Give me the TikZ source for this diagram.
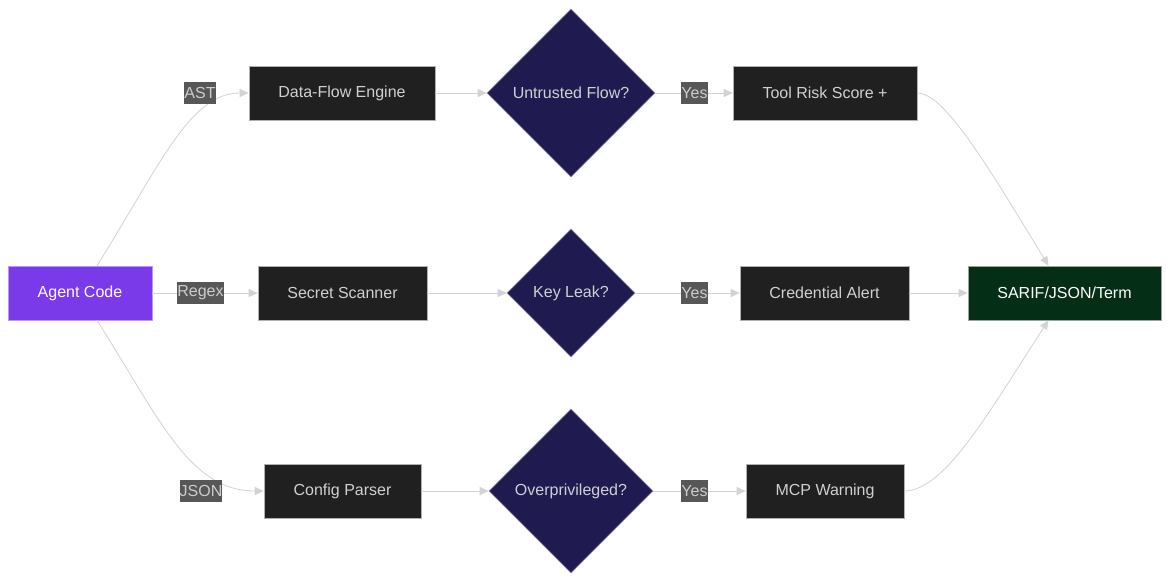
\documentclass[tikz,border=0pt]{standalone}
\usepackage{fontspec}
\setmainfont{Liberation Sans}
\usetikzlibrary{shapes.geometric,arrows.meta}
\definecolor{boxfill}{HTML}{202020}
\definecolor{boxline}{HTML}{B0B0B0}
\definecolor{boxtext}{HTML}{D0D0D0}
\definecolor{agentfill}{HTML}{7B3AEA}
\definecolor{agentline}{HTML}{B896F5}
\definecolor{decfill}{HTML}{1F1A4F}
\definecolor{decline}{HTML}{8A86A8}
\definecolor{outfill}{HTML}{052E16}
\definecolor{outline}{HTML}{A0A0A0}
\definecolor{edgecol}{HTML}{D3D3D3}
\definecolor{lblfill}{HTML}{575757}
\definecolor{lbltext}{HTML}{CCCCCC}
\begin{document}
\begin{tikzpicture}[x=1pt,y=-1pt,
  every node/.style={font=\fontsize{16}{19}\selectfont},
  proc/.style={rectangle,draw=boxline,line width=0.6pt,fill=boxfill,text=boxtext,minimum height=54pt,inner sep=0pt},
  dec/.style={diamond,aspect=1,draw=decline,line width=0.6pt,fill=decfill,text=boxtext,inner sep=0pt},
  lbl/.style={fill=lblfill,text=lbltext,inner xsep=0pt,inner ysep=1pt,minimum height=22pt},
  edge/.style={draw=edgecol,line width=0.8pt,-{Triangle[length=9pt,width=8pt,fill=edgecol]}}
]
\useasboundingbox[fill=white] (0,0) rectangle (1170,582);
% nodes
\node[proc,fill=agentfill,draw=agentline,text=white,minimum width=144pt] (ac) at (80,293) {Agent Code};
\node[proc,minimum width=186pt] (df) at (342,93) {Data-Flow Engine};
\node[proc,minimum width=169pt] (ss) at (342.5,293) {Secret Scanner};
\node[proc,minimum width=157pt] (cp) at (342.5,491) {Config Parser};
\node[dec,minimum width=168pt,minimum height=168pt] (uf) at (571,93) {Untrusted Flow?};
\node[dec,minimum width=128pt,minimum height=128pt] (kl) at (571,293) {Key Leak?};
\node[dec,minimum width=164pt,minimum height=164pt] (op) at (571,491) {Overprivileged?};
\node[proc,minimum width=184pt] (tr) at (825,93) {Tool Risk Score +};
\node[proc,minimum width=169pt] (ca) at (824.5,293) {Credential Alert};
\node[proc,minimum width=158pt] (mw) at (825,491) {MCP Warning};
\node[proc,fill=outfill,draw=outline,text=white,minimum width=193pt] (out) at (1064.5,293) {SARIF/JSON/Term};
% edges
\draw[edge] ([xshift=17pt]ac.north) .. controls (160,165) and (190,93) .. (df.west);
\draw[edge] (ac.east) -- (ss.west);
\draw[edge] ([xshift=17pt]ac.south) .. controls (160,420) and (190,491) .. (cp.west);
\draw[edge] (df.east) -- (uf.west);
\draw[edge] (ss.east) -- (kl.west);
\draw[edge] (cp.east) -- (op.west);
\draw[edge] (uf.east) -- (tr.west);
\draw[edge] (kl.east) -- (ca.west);
\draw[edge] (op.east) -- (mw.west);
\draw[edge] (tr.east) .. controls (945,93) and (990,170) .. ([xshift=-16pt]out.north);
\draw[edge] (ca.east) -- (out.west);
\draw[edge] (mw.east) .. controls (945,491) and (990,410) .. ([xshift=-16pt]out.south);
% labels
\node[lbl] (l1) at (200,93) {AST};
\node[lbl] (l2) at (200.5,293) {Regex};
\node[lbl] (l3) at (201,491) {JSON};
\node[lbl] (l4) at (694.5,93) {Yes};
\node[lbl] (l5) at (694.5,293) {Yes};
\node[lbl] (l6) at (694.5,491) {Yes};
\end{tikzpicture}
\end{document}
